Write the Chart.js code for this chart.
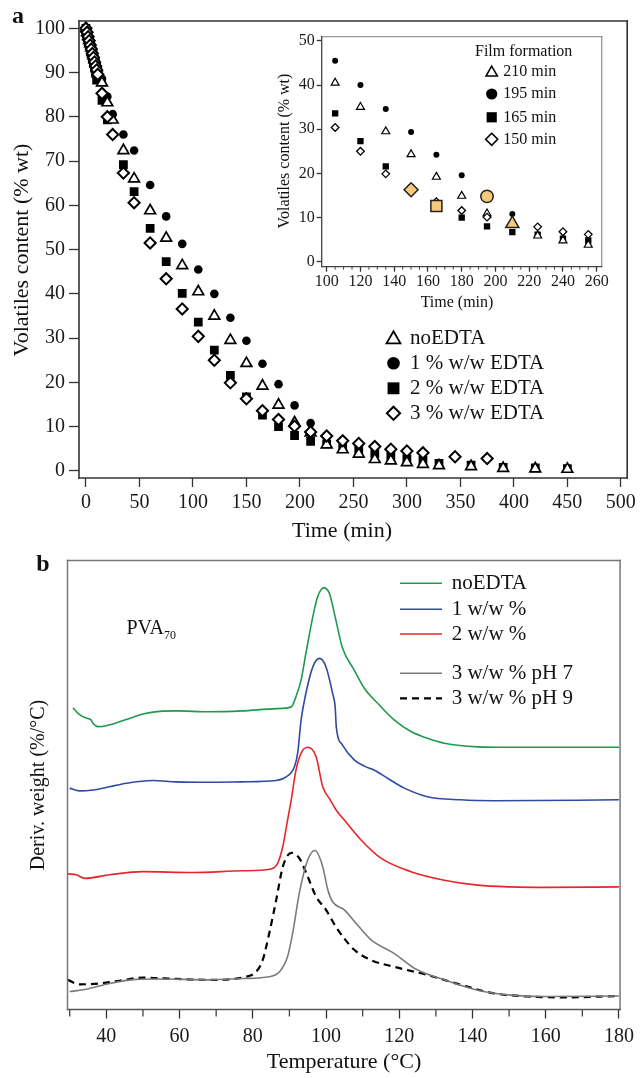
<!DOCTYPE html>
<html>
<head>
<meta charset="utf-8">
<script src="https://cdn.jsdelivr.net/npm/chart.js@4.4.1/dist/chart.umd.min.js"></script>
<style>
html,body{margin:0;padding:0;background:#fff;}
body{width:640px;height:1078px;position:relative;overflow:hidden;}
.wrap{position:absolute;}
#wA{left:0;top:0;width:640px;height:545px;}
#wI{left:260px;top:25px;width:370px;height:300px;}
#wB{left:0;top:545px;width:640px;height:533px;}
</style>
</head>
<body>
<div class="wrap" id="wA"><canvas id="cA"></canvas></div>
<div class="wrap" id="wI"><canvas id="cI"></canvas></div>
<div class="wrap" id="wB"><canvas id="cB"></canvas></div>
<script>
// ================= DATA =================
// Panel a : volatiles content (% wt) vs time (min)
const seriesLabelsA = ['noEDTA', '1 % w/w EDTA', '2 % w/w EDTA', '3 % w/w EDTA'];
const timeNoEDTA = [0,1,2,3,4,5,6,7,8,9,10,11,15,20,25,35,45,60,75,90,105,120,135,150,165,180,195,210,225,240,255,270,285,300,315,330,360,390,420,450];
const volNoEDTA  = [100,99.1,98.2,97.3,96.5,95.6,94.6,93.8,92.9,92.0,91.1,90.2,87.7,83.2,79.3,72.4,66.0,58.8,52.6,46.4,40.5,35.0,29.5,24.3,19.2,14.9,10.9,8.6,5.9,4.8,3.8,2.6,2.3,1.9,1.5,1.2,1.0,0.6,0.5,0.4];
const time1EDTA  = [0,1,2,3,4,5,6,7,8,9,10,11,15,20,25,35,45,60,75,90,105,120,135,150,165,180,195,210];
const vol1EDTA   = [100,99.2,98.4,97.5,96.7,95.9,95.1,94.2,93.4,92.6,91.8,91.0,88.6,84.6,80.6,76.0,72.4,64.6,57.5,51.3,45.5,40.0,34.6,29.4,24.2,19.6,14.8,10.8];
const time2EDTA  = [0,1,2,3,4,5,6,7,8,9,10,15,20,35,45,60,75,90,105,120,135,150,165,180,195,210,225,240,255,270,285,300,315,330,360,390,420,450];
const vol2EDTA   = [100,98.9,97.8,96.7,95.6,94.5,93.3,92.2,91.0,89.8,88.3,83.7,79.3,69.2,63.1,54.8,47.3,40.1,33.6,27.3,21.6,16.7,12.6,10.0,8.0,6.7,6.1,5.2,4.8,3.9,3.3,2.8,2.4,1.7,1.3,0.8,0.7,0.5];
const time3EDTA  = [0,1,2,3,4,5,6,7,8,9,10,11,15,20,25,35,45,60,75,90,105,120,135,150,165,180,195,210,225,240,255,270,285,300,315,345,375];
const vol3EDTA   = [100,99.1,98.1,97.2,96.2,95.3,94.3,93.4,92.4,91.5,90.6,89.6,85.3,80.0,76.0,67.3,60.6,51.5,43.4,36.6,30.4,25.0,19.9,16.3,13.6,11.6,10.1,8.8,7.9,6.8,6.2,5.5,4.9,4.5,4.1,3.2,2.8];
// Inset : film formation time of each formulation (min)
const filmFormationMin = [210, 195, 165, 150];
const insetLegendLabels = ['210 min', '195 min', '165 min', '150 min'];
const xTicksA = [0,50,100,150,200,250,300,350,400,450,500];
const yTicksA = [0,10,20,30,40,50,60,70,80,90,100];
const xTicksInset = [100,120,140,160,180,200,220,240,260];
const yTicksInset = [0,10,20,30,40,50];

// Panel b : derivative weight (arbitrary offset units) vs temperature (°C)
const seriesLabelsB = ['noEDTA', '1 w/w %', '2 w/w %', '3 w/w % pH 7', '3 w/w % pH 9'];
const tempNoEDTA  = [30.9,32.5,34.5,35.8,36.4,37.7,40,45.5,50,54.5,59,68,77,86.4,90.5,91.8,93.2,94.5,96.4,97.7,99.4,100.9,102.7,104.5,107.7,110.5,114.1,118.6,123.2,127.7,132.3,141.4,150.5,160,180];
const derivNoEDTA = [67.2,65.8,64.9,64.5,63.7,63.0,63.2,64.6,65.8,66.4,66.5,66.3,66.5,67.0,67.4,69.7,73.4,79.3,87.5,91.9,93.9,92.7,86.7,80.5,75.6,71.5,68.2,64.5,61.9,60.4,59.3,58.5,58.4,58.4,58.4];
const temp1  = [30,32.7,36.4,40.9,45.5,52.7,59,68,77,86.4,89.1,91.4,92.3,93.2,94.5,96.4,98.2,100,101.8,102.5,102.8,104.5,107.7,110.5,113.2,116.8,121.4,127.7,136.8,145.9,180];
const deriv1 = [49.3,48.7,48.9,49.6,50.4,51.0,50.7,50.6,50.7,51.0,51.8,54.1,57.4,64.5,70.4,76.3,78.2,76.3,70.4,67.4,63.0,58.9,55.6,54.2,53.3,51.5,49.3,47.4,46.7,46.5,46.7];
const temp2  = [29.5,31.8,34.1,40.9,50,63.6,77.3,85,86.8,88.2,89.5,90.5,91.8,93.2,95,97.3,99.1,100.9,102.7,105,109.5,115,123.2,132.3,141.4,150.5,159.5,180];
const deriv2 = [30.2,30.0,29.2,30.0,30.7,30.5,30.9,31.3,32.6,36.3,42.2,46.7,53.3,57.1,58.4,56.3,49.6,47.0,44.5,42.2,37.8,33.7,30.7,28.8,27.7,27.3,27.2,27.3];
const temp3pH7  = [30,34.5,40.9,48.2,54.5,68.2,77.3,84.5,87.3,89.5,90.9,92.7,95,97,99.1,100.5,101.8,105,108.6,112.3,118.6,124.1,132.3,141.4,150.5,159.5,180];
const deriv3pH7 = [4.0,4.5,5.8,6.7,6.8,6.6,6.9,7.3,8.4,11.8,17.0,25.9,33.3,35.4,31.8,26.6,24.0,22.2,18.8,15.5,12.5,9.2,6.6,4.3,3.2,2.9,3.0];
const temp3pH9  = [29.5,32.7,38.2,43.6,50,59.1,68.2,78.2,80.9,82.7,84.5,86.4,88.2,90.5,92.7,95,97.3,100,102.7,105,107.7,112.3,118.6,127.7,136.8,145.9,155,164.1,180];
const deriv3pH9 = [6.6,5.6,5.8,6.4,7.1,6.8,6.6,7.3,8.4,11.0,17.0,24.4,31.8,34.9,33.7,29.6,25.1,22.2,18.4,15.8,13.3,11.0,9.5,7.7,5.5,3.6,2.9,2.7,3.0];
const xTicksB = [40,60,80,100,120,140,160,180];

// ================= HELPERS =================
const F = "'Liberation Serif', 'Times New Roman', serif";
const pts = (xs, ys) => xs.map((x, i) => ({x: x, y: ys[i]}));
const seriesA = [pts(timeNoEDTA, volNoEDTA), pts(time1EDTA, vol1EDTA), pts(time2EDTA, vol2EDTA), pts(time3EDTA, vol3EDTA)];
const stylesA = ['triangle', 'circle', 'rect', 'rectRot'];
const fillsA = ['#fff', '#000', '#000', '#fff'];

function marker(ctx, style, x, y, r, fill, stroke, lw) {
  ctx.save();
  ctx.beginPath();
  if (style === 'circle') ctx.arc(x, y, r, 0, Math.PI * 2);
  else if (style === 'triangle') {
    for (let i = 0; i < 3; i++) {
      const a = i * 2 * Math.PI / 3;
      const px = x + Math.sin(a) * r, py = y - Math.cos(a) * r;
      if (i) ctx.lineTo(px, py); else ctx.moveTo(px, py);
    }
    ctx.closePath();
  } else if (style === 'rect') {
    const s = r * Math.SQRT1_2; ctx.rect(x - s, y - s, 2 * s, 2 * s);
  } else {
    ctx.moveTo(x, y - r); ctx.lineTo(x + r, y); ctx.lineTo(x, y + r); ctx.lineTo(x - r, y); ctx.closePath();
  }
  ctx.fillStyle = fill; ctx.fill();
  if (lw > 0) { ctx.lineWidth = lw; ctx.strokeStyle = stroke; ctx.stroke(); }
  ctx.restore();
}

function text(ctx, t, x, y, size, opt) {
  opt = opt || {};
  ctx.save();
  ctx.font = (opt.bold ? 'bold ' : '') + size + 'px ' + F;
  ctx.fillStyle = opt.color || '#111';
  ctx.textAlign = opt.align || 'left';
  ctx.textBaseline = opt.baseline || 'middle';
  ctx.translate(x, y);
  if (opt.rot) ctx.rotate(opt.rot);
  ctx.fillText(t, 0, 0);
  ctx.restore();
}

const framePlugin = {
  id: 'frame',
  afterDraw(chart, args, o) {
    const {ctx, chartArea: a} = chart;
    ctx.save();
    ctx.lineWidth = o.width || 1.5;
    ctx.lineCap = 'square';
    const seg = (c, x1, y1, x2, y2) => { if (!c) return; ctx.strokeStyle = c; ctx.beginPath(); ctx.moveTo(x1, y1); ctx.lineTo(x2, y2); ctx.stroke(); };
    seg(o.top, a.left, a.top, a.right, a.top);
    seg(o.right, a.right, a.top, a.right, a.bottom);
    seg(o.bottom, a.left, a.bottom, a.right, a.bottom);
    seg(o.left, a.left, a.top, a.left, a.bottom);
    ctx.restore();
  }
};

const minorPlugin = {
  id: 'minor',
  afterDraw(chart, args, o) {
    if (!o || !o.axes) return;
    const ctx = chart.ctx;
    o.axes.forEach(m => {
      const s = chart.scales[m.id];
      ctx.save(); ctx.strokeStyle = m.color; ctx.lineWidth = m.width;
      for (let v = Math.ceil(s.min / m.step) * m.step; v <= s.max + 1e-9; v += m.step) {
        if (Math.abs(v / m.skip - Math.round(v / m.skip)) < 1e-6) continue;
        const p = s.getPixelForValue(v);
        ctx.beginPath();
        if (s.isHorizontal()) { ctx.moveTo(p, s.top); ctx.lineTo(p, s.top + m.len); }
        else { ctx.moveTo(s.right, p); ctx.lineTo(s.right - m.len, p); }
        ctx.stroke();
      }
      ctx.restore();
    });
  }
};

function tickScale(min, max, ticksArr, size, tl, pad, fixed, horizontal) {
  return {
    type: 'linear', min: min, max: max,
    afterFit: s => { if (horizontal) s.height = fixed; else s.width = fixed; },
    afterBuildTicks: s => { s.ticks = ticksArr.map(v => ({value: v})); },
    ticks: {font: {family: F, size: size}, color: '#1a1a1a', padding: pad, autoSkip: false, maxRotation: 0, includeBounds: false,
            callback: v => String(v)},
    grid: {display: true, drawOnChartArea: false, drawTicks: true, tickLength: tl, tickColor: '#333', tickWidth: 1.3},
    border: {display: false}
  };
}

// ================= PANEL a (main) =================
const legendA = {
  id: 'legendA',
  afterDraw(chart) {
    const ctx = chart.ctx;
    text(ctx, 'a', 18, 17, 24, {bold: true, align: 'center'});
    text(ctx, 'Volatiles content (% wt)', 22, 250, 22, {align: 'center', rot: -Math.PI / 2});
    text(ctx, 'Time (min)', 342, 531, 22, {align: 'center'});
    const rows = [338.3, 363.3, 388.3, 413.3];
    const rad = [8, 6.3, 8.4, 6.6];
    const lws = [1.8, 0, 0, 2];
    seriesLabelsA.forEach((lab, i) => {
      marker(ctx, stylesA[i], 393.5, rows[i] + (i === 0 ? 1 : 0), rad[i], fillsA[i], '#000', lws[i]);
      text(ctx, lab, 410, rows[i], 21);
    });
  }
};

const orderA = [1, 3, 2, 0];
const radA = [6.2, 4.3, 6.2, 5.6];
const bwA = [1.7, 0, 0, 2];
new Chart(document.getElementById('cA'), {
  type: 'scatter',
  data: {
    datasets: seriesA.map((d, i) => ({
      label: seriesLabelsA[i], data: d, order: orderA[i],
      pointStyle: stylesA[i], pointRadius: radA[i], pointBorderWidth: bwA[i],
      pointBackgroundColor: fillsA[i], pointBorderColor: '#000', showLine: false
    }))
  },
  options: {
    responsive: true, maintainAspectRatio: false, animation: false,
    layout: {padding: {left: 0, top: 21, right: 12, bottom: 0}},
    plugins: {legend: {display: false}, tooltip: {enabled: false},
      frame: {width: 1.6, top: '#333', right: '#333', bottom: '#333', left: '#333'}},
    scales: {
      x: tickScale(-6.5, 505.9, xTicksA, 20, 9, 4, 67, true),
      y: tickScale(-1.6, 101.65, yTicksA, 20, 10, 4, 79, false)
    }
  },
  plugins: [framePlugin, legendA]
});

// ================= INSET =================
const inRange = d => d.filter(p => p.x >= 100 && p.x <= 260);
const valueAt = (xs, ys, t) => ys[xs.indexOf(t)];
const timesAll = [timeNoEDTA, time1EDTA, time2EDTA, time3EDTA];
const valsAll = [volNoEDTA, vol1EDTA, vol2EDTA, vol3EDTA];
const highlight = filmFormationMin.map((t, i) => ({x: t, y: valueAt(timesAll[i], valsAll[i], t)}));

const legendI = {
  id: 'legendI',
  afterDraw(chart) {
    const ctx = chart.ctx;
    text(ctx, 'Volatiles content (% wt)', 25, 126, 16, {align: 'center', rot: -Math.PI / 2});
    text(ctx, 'Time (min)', 197, 278, 16, {align: 'center'});
    text(ctx, 'Film formation', 215, 27, 16);
    const rows = [46.7, 69, 92.3, 114.3];
    const rad = [6.6, 5.6, 7.2, 6];
    const lws = [1.5, 0, 0, 1.6];
    insetLegendLabels.forEach((lab, i) => {
      marker(ctx, stylesA[i], 231.7, rows[i] + (i === 0 ? 1 : 0), rad[i], fillsA[i], '#000', lws[i]);
      text(ctx, lab, 243.3, rows[i], 16);
    });
  }
};

const radI = [4.6, 3.0, 4.5, 3.8];
const bwI = [1.2, 0, 0, 1.3];
new Chart(document.getElementById('cI'), {
  type: 'scatter',
  data: {
    datasets: seriesA.map((d, i) => ({
      label: insetLegendLabels[i], data: inRange(d), order: orderA[i] + 1,
      pointStyle: stylesA[i], pointRadius: radI[i], pointBorderWidth: bwI[i],
      pointBackgroundColor: fillsA[i], pointBorderColor: '#000'
    })).concat([{
      label: 'Film formation', data: highlight, order: 0,
      pointStyle: stylesA, pointRadius: [7.6, 6.2, 7.8, 7], pointBorderWidth: 1.5,
      pointBackgroundColor: '#f6c97b', pointBorderColor: '#222'
    }])
  },
  options: {
    responsive: true, maintainAspectRatio: false, animation: false,
    layout: {padding: {left: 0, top: 10, right: 28.3, bottom: 0}},
    plugins: {legend: {display: false}, tooltip: {enabled: false},
      frame: {width: 1.3, top: '#999', right: '#999', bottom: '#444', left: '#444'},
      minor: {axes: [{id: 'x', step: 5, skip: 20, len: 3, color: '#444', width: 1}]}},
    scales: {
      x: tickScale(97.04, 262.96, xTicksInset, 16, 5, 0, 58.3, true),
      y: tickScale(-1.12, 50.97, yTicksInset, 16, 5, 2, 61.7, false)
    }
  },
  plugins: [framePlugin, minorPlugin, legendI]
});

// ================= PANEL b =================
const colorsB = ['#1f9a4b', '#2f4aa5', '#e8262a', '#7b7b7b', '#000000'];
const dataB = [pts(tempNoEDTA, derivNoEDTA), pts(temp1, deriv1), pts(temp2, deriv2), pts(temp3pH7, deriv3pH7), pts(temp3pH9, deriv3pH9)];
const legendB = {
  id: 'legendB',
  afterDraw(chart) {
    const ctx = chart.ctx;
    text(ctx, 'b', 43, 20, 24, {bold: true, align: 'center'});
    text(ctx, 'Deriv. weight (%/\u00B0C)', 39, 240, 20, {align: 'center', rot: -Math.PI / 2});
    text(ctx, 'Temperature (\u00B0C)', 344, 517, 22, {align: 'center'});
    text(ctx, 'PVA', 126.5, 89, 20, {baseline: 'alphabetic'});
    ctx.save(); ctx.font = '20px ' + F; const w = ctx.measureText('PVA').width; ctx.restore();
    text(ctx, '70', 126.5 + w, 94, 12, {baseline: 'alphabetic'});
    const rows = [38.3, 64.3, 89, 128.3, 153.3];
    seriesLabelsB.forEach((lab, i) => {
      ctx.save();
      ctx.strokeStyle = colorsB[i]; ctx.lineWidth = i === 4 ? 2.2 : 1.6;
      if (i === 4) ctx.setLineDash([7, 5]);
      ctx.beginPath(); ctx.moveTo(400, rows[i]); ctx.lineTo(442, rows[i]); ctx.stroke();
      ctx.restore();
      text(ctx, lab, 451.7, rows[i], 21);
    });
  }
};
new Chart(document.getElementById('cB'), {
  type: 'scatter',
  data: {
    datasets: dataB.map((d, i) => ({
      label: seriesLabelsB[i], data: d, showLine: true, pointRadius: 0,
      borderColor: colorsB[i], borderWidth: i === 4 ? 2.2 : 1.6,
      borderDash: i === 4 ? [7, 5] : [], cubicInterpolationMode: 'monotone', fill: false
    }))
  },
  options: {
    responsive: true, maintainAspectRatio: false, animation: false,
    layout: {padding: {left: 0, top: 15.5, right: 19, bottom: 0}},
    plugins: {legend: {display: false}, tooltip: {enabled: false},
      frame: {width: 1.5, top: '#777', right: '#777', bottom: '#555', left: '#777'},
      minor: {axes: [{id: 'x', step: 10, skip: 20, len: 7, color: '#444', width: 1.3}]}},
    scales: {
      x: tickScale(29.4, 180.3, xTicksB, 20, 9, 6, 68.5, true),
      y: {type: 'linear', min: 0, max: 100, afterFit: s => { s.width = 67.5; },
          ticks: {display: false}, grid: {display: false, drawTicks: false}, border: {display: false}}
    }
  },
  plugins: [framePlugin, minorPlugin, legendB]
});
</script>
</body>
</html>
